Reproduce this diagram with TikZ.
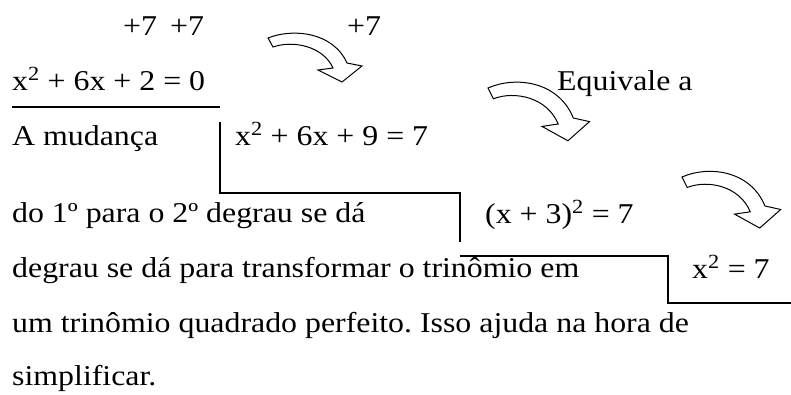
\documentclass[tikz,border=0pt]{standalone}
\usepackage{fontspec}
\setmainfont{Liberation Serif}[FakeStretch=1.11]
\begin{document}
\frenchspacing
\begin{tikzpicture}[x=1pt, y=-1pt,
    txt/.style = {anchor=base west, inner sep=0pt, font=\fontsize{28.7}{32}\selectfont},
    stair/.style = {line width=1.3pt},
    bentarrow/.pic = {
        \draw[line width=1pt, fill=white] (0,0) .. controls (25,-10) and (65,-6) .. (79,25)
            -- (94,28) -- (74,44) -- (50,32) -- (65,30) .. controls (55,8) and (25,2) .. (5,9) -- cycle;
    }]
    \useasboundingbox (0,0) rectangle (791,394);

    % somas dos dois lados
    \node[txt] (p1) at (123,35) {+7};
    \node[txt] (p2) at (170,35) {+7};
    \node[txt] (p3) at (347,35) {+7};

    % degraus da escada
    \node[txt] (eq1) at (12,90) {x\textsuperscript{2} + 6x + 2 = 0};
    \node[txt] (eq2) at (235,145) {x\textsuperscript{2} + 6x + 9 = 7};
    \node[txt] (eq3) at (485,223) {(x + 3)\textsuperscript{2} = 7};
    \node[txt] (eq4) at (692,278) {x\textsuperscript{2} = 7};
    \node[txt] (equiv) at (557,90) {Equivale a};

    % texto explicativo
    \node[txt] (t1) at (12,145) {A mudança};
    \node[txt] (t2) at (12,222) {do 1º para o 2º degrau se dá};
    \node[txt] (t3) at (12,277) {degrau se dá para transformar o trinômio em};
    \node[txt] (t4) at (12,332) {um trinômio quadrado perfeito. Isso ajuda na hora de};
    \node[txt] (t5) at (12,385) {simplificar.};

    \draw[stair] (12,107) -- (220,107);
    \draw[stair] (220,122) -- (220,193) -- (460,193) -- (460,242);
    \draw[stair] (460,256) -- (668,256) -- (668,303) -- (791,303);

    \pic at (268,38) {bentarrow};
    \pic[xscale=1.08, yscale=1.2] at (488,88) {bentarrow};
    \pic[xscale=1.05, yscale=1.16] at (682,177) {bentarrow};
\end{tikzpicture}
\end{document}
